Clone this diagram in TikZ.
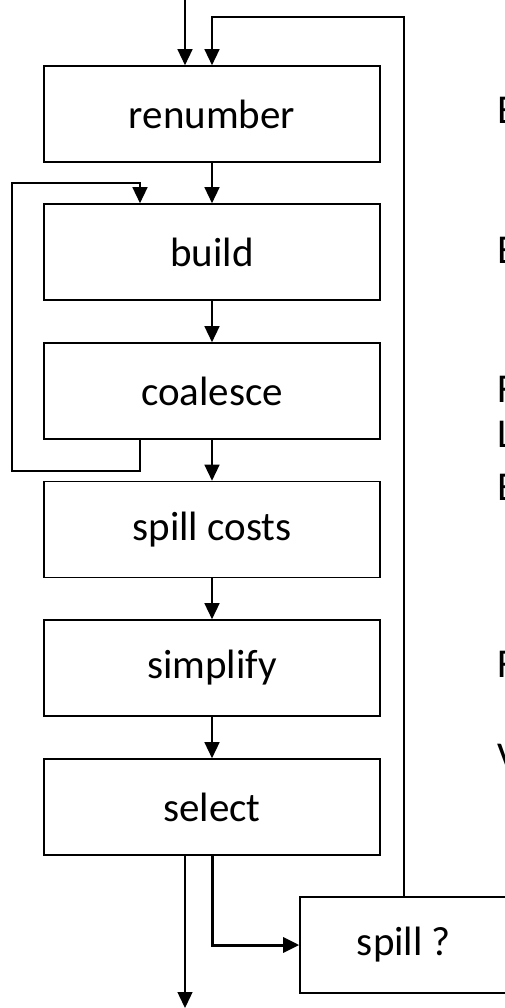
\documentclass[tikz,border=0pt]{standalone}
\usepackage{fontspec}
\setmainfont{Carlito}
\usetikzlibrary{arrows.meta}
\begin{document}
\begin{tikzpicture}[x=1pt,y=-1pt,
  stage/.style={draw, line width=1.6pt, minimum width=336pt, minimum height=96pt, inner sep=0pt, font=\fontsize{41}{41}\selectfont},
  conn/.style={line width=1.4pt, -{Triangle[width=15pt,length=16pt]}},
  thickconn/.style={line width=3pt, -{Triangle[width=15pt,length=16pt]}},
  side/.style={anchor=base west, inner sep=0pt, font=\fontsize{41}{41}\selectfont}]
\useasboundingbox (0,0) rectangle (504,1008);
\node[stage] (renumber) at (212,114) {renumber};
\node[stage] (build) at (212,252) {build};
\node[stage] (coalesce) at (212,391) {coalesce};
\node[stage] (spillcosts) at (212,529.5) {spill costs};
\node[stage] (simplify) at (212,668) {simplify};
\node[stage] (select) at (212,807) {select};
\node[stage, minimum width=208pt] (spill) at (404,945) {spill ?};

\node[side] (t1) at (497,124) {E};
\node[side] (t2) at (497,263) {E};
\node[side] (t3) at (497,402) {F};
\node[side] (t4) at (497,447) {L};
\node[side] (t5) at (497,500) {E};
\node[side] (t6) at (497,677) {F};
\node[side] (t7) at (497,770) {V};

\coordinate (in) at (185,0);
\coordinate (fb) at (404,17);
\coordinate (c1) at (140,471);
\coordinate (c2) at (12,183);
\coordinate (out) at (185,1008);

\draw[conn] (in) -- (in |- renumber.north);
\draw[conn] (spill.north -| fb) -- (fb) -- (fb -| renumber.north) -- (renumber.north);
\draw[conn] (renumber.south) -- (build.north);
\draw[conn] (build.south) -- (coalesce.north);
\draw[conn] (coalesce.south) -- (spillcosts.north);
\draw[conn] (spillcosts.south) -- (simplify.north);
\draw[conn] (simplify.south) -- (select.north);
\draw[conn] (coalesce.south -| c1) -- (c1) -- (c1 -| c2) -- (c2) -- (c2 -| c1) -- (build.north -| c1);
\draw[conn] (select.south -| out) -- (out);
\draw[thickconn] (select.south) |- (spill.west);
\end{tikzpicture}
\end{document}
